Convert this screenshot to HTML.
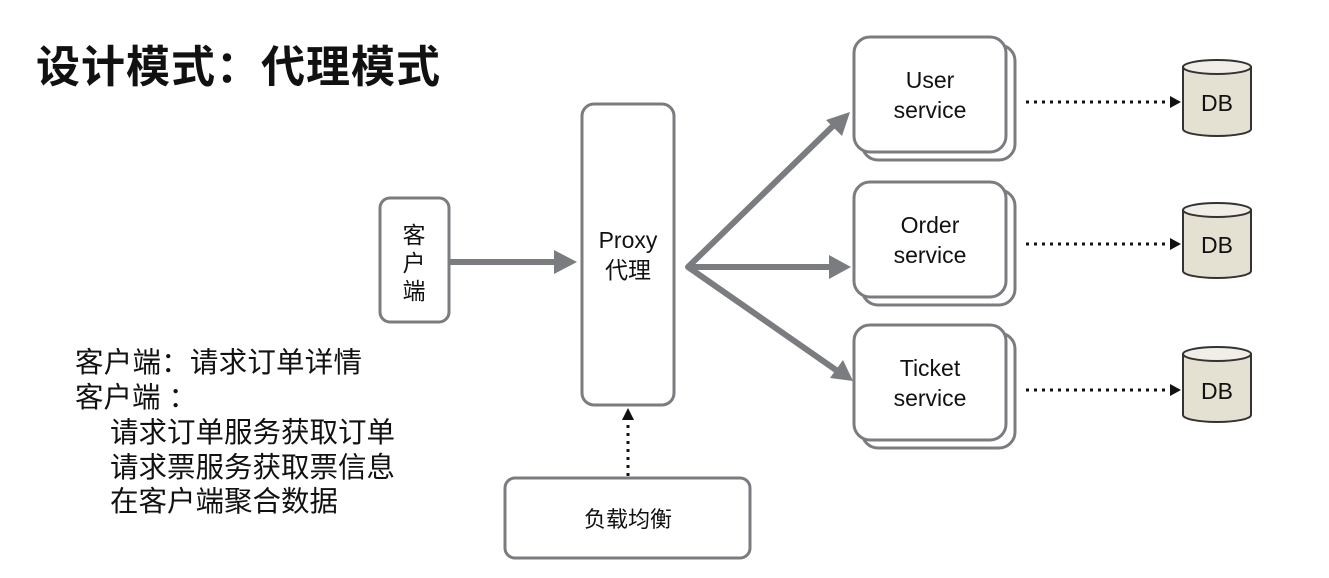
<!DOCTYPE html>
<html><head><meta charset="utf-8"><style>
html,body{margin:0;padding:0;background:#fff;}
svg{display:block;}
text{font-family:"Liberation Sans","Noto Sans CJK SC",sans-serif;fill:#111;}
</style></head><body>
<svg width="1329" height="578" viewBox="0 0 1329 578" xmlns="http://www.w3.org/2000/svg">
<text x="36" y="82" font-size="44" font-weight="bold" textLength="404" lengthAdjust="spacing" style="font-family:'Noto Sans CJK SC',sans-serif">设计模式：代理模式</text>

<!-- client -->
<rect x="380" y="198" width="69" height="124" rx="10" fill="#fff" stroke="#7b7c80" stroke-width="3"/>
<text x="414" y="243" font-size="23" text-anchor="middle">客</text>
<text x="414" y="271" font-size="23" text-anchor="middle">户</text>
<text x="414" y="299" font-size="23" text-anchor="middle">端</text>
<!-- proxy -->
<rect x="582" y="104" width="92" height="301" rx="12" fill="#fff" stroke="#7b7c80" stroke-width="3"/>
<text x="628" y="248" font-size="23" text-anchor="middle">Proxy</text>
<text x="628" y="278" font-size="23" text-anchor="middle">代理</text>
<!-- client->proxy arrow -->
<line x1="450" y1="262" x2="556" y2="262" stroke="#7b7c80" stroke-width="6"/>
<path d="M554,250 L577,262 L554,274 z" fill="#7b7c80"/>
<!-- branches -->
<g stroke="#7b7c80" stroke-width="6" fill="none" stroke-linejoin="round">
<polyline points="835,124 688,267 830,267"/>
<line x1="688" y1="267" x2="836" y2="370"/>
</g>
<path d="M850,112 L842,136 L826,120 z" fill="#7b7c80"/>
<path d="M851,267 L829,255 L829,279 z" fill="#7b7c80"/>
<path d="M853,381 L830,378 L843,360 z" fill="#7b7c80"/>

<!-- services -->
<g fill="#fff" stroke="#7b7c80" stroke-width="3">
<rect x="862" y="45" width="153" height="115" rx="16"/>
<rect x="854" y="37" width="152" height="115" rx="16"/>
<rect x="862" y="190" width="153" height="115" rx="16"/>
<rect x="854" y="182" width="152" height="115" rx="16"/>
<rect x="862" y="333" width="153" height="115" rx="16"/>
<rect x="854" y="325" width="152" height="115" rx="16"/>
</g>
<g font-size="23" text-anchor="middle">
<text x="930" y="88">User</text><text x="930" y="118">service</text>
<text x="930" y="233">Order</text><text x="930" y="263">service</text>
<text x="930" y="376">Ticket</text><text x="930" y="406">service</text>
</g>

<!-- dotted arrows -->
<g stroke="#111" stroke-width="3" stroke-dasharray="3,5" fill="none">
<line x1="1026" y1="102" x2="1170" y2="102"/>
<line x1="1026" y1="244" x2="1170" y2="244"/>
<line x1="1026" y1="390" x2="1170" y2="390"/>
<line x1="628" y1="476" x2="628" y2="420"/>
</g>
<g fill="#111">
<path d="M1170,96 L1181,102 L1170,108 z"/>
<path d="M1170,238 L1181,244 L1170,250 z"/>
<path d="M1170,384 L1181,390 L1170,396 z"/>
<path d="M622,420 L628,408 L634,420 z"/>
</g>

<!-- DBs -->
<g stroke="#333" stroke-width="2" fill="#e4e0d2">
<path d="M1183,67 L1183,129 A34,7 0 0 0 1251,129 L1251,67 z"/>
<ellipse cx="1217" cy="67" rx="34" ry="7" fill="#f0eee6"/>
<path d="M1183,210 L1183,271 A34,7 0 0 0 1251,271 L1251,210 z"/>
<ellipse cx="1217" cy="210" rx="34" ry="7" fill="#f0eee6"/>
<path d="M1183,354 L1183,415 A34,7 0 0 0 1251,415 L1251,354 z"/>
<ellipse cx="1217" cy="354" rx="34" ry="7" fill="#f0eee6"/>
</g>
<g font-size="23" text-anchor="middle">
<text x="1217" y="111">DB</text>
<text x="1217" y="253">DB</text>
<text x="1217" y="399">DB</text>
</g>

<!-- load balancer -->
<rect x="505" y="478" width="245" height="80" rx="10" fill="#fff" stroke="#7b7c80" stroke-width="3"/>
<text x="628" y="527" font-size="22" text-anchor="middle">负载均衡</text>

<!-- left text -->
<g font-size="28.5">
<text x="75" y="372" textLength="287" lengthAdjust="spacing">客户端：请求订单详情</text>
<text x="75" y="407">客户端<tspan dx="8">：</tspan></text>
<text x="110" y="442">请求订单服务获取订单</text>
<text x="110" y="477">请求票服务获取票信息</text>
<text x="110" y="511">在客户端聚合数据</text>
</g>
</svg>
</body></html>
